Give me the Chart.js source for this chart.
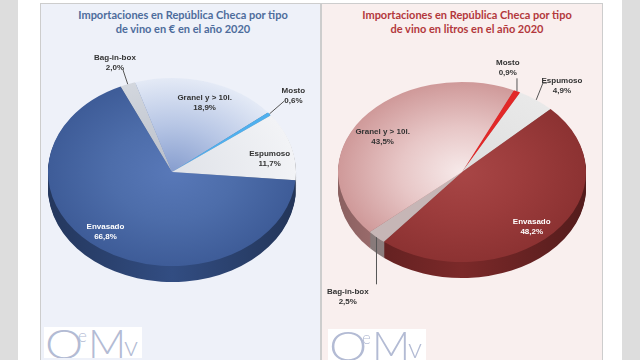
<!DOCTYPE html>
<html><head><meta charset="utf-8">
<script src="https://cdn.jsdelivr.net/npm/chart.js@4.4.1/dist/chart.umd.min.js"></script>
<style>
html,body{margin:0;padding:0;width:640px;height:360px;overflow:hidden;background:#fff;}
.strip{position:absolute;top:0;height:360px;width:18px;background:#dddddd;}
.panel{position:absolute;top:3px;height:360px;box-sizing:border-box;border:1px solid #cdcdcd;border-bottom:none;}
.title{position:absolute;top:8px;width:300px;text-align:center;font:bold 11px Lato, sans-serif;line-height:14px;white-space:nowrap;}
canvas{position:absolute;top:3px;}
.logo{position:absolute;width:98px;height:31px;background:#fff;color:#b3bbd4;font-family:Lato, sans-serif;font-weight:300;white-space:nowrap;overflow:hidden;}
.logo span{position:absolute;}
</style>
</head><body>
<div class="strip" style="left:0"></div>
<div class="strip" style="left:622px"></div>
<div class="panel" style="left:40px;width:281px;background:#eef1f9"></div>
<div class="panel" style="left:321px;width:282px;background:#f9efee"></div>
<div class="title" style="left:33px;color:#4d6c9c">Importaciones en República Checa por tipo<br>de vino en € en el año 2020</div>
<div class="title" style="left:317px;color:#b3383c">Importaciones en República Checa por tipo<br>de vino en litros en el año 2020</div>
<canvas id="c1" width="280" height="357" style="left:40px"></canvas>
<canvas id="c2" width="280" height="357" style="left:322px"></canvas>
<div class="logo" style="left:44px;top:327px"><span style="left:1px;top:-9px;font-size:42px;transform:scaleX(1.15);transform-origin:left">O</span><span style="left:34px;top:-2px;font-size:17px">e</span><span style="left:44px;top:-9px;font-size:42px">M</span><span style="left:80px;top:1px;font-size:28px">v</span></div>
<div class="logo" style="left:328px;top:329px"><span style="left:1px;top:-9px;font-size:42px;transform:scaleX(1.15);transform-origin:left">O</span><span style="left:34px;top:-2px;font-size:17px">e</span><span style="left:44px;top:-9px;font-size:42px">M</span><span style="left:80px;top:1px;font-size:28px">v</span></div>
<script>
// ---- data ----
const categoriesEuro = ['Bag-in-box', 'Granel y > 10l.', 'Mosto', 'Espumoso', 'Envasado'];
const valuesEuro = [2.0, 18.9, 0.6, 11.7, 66.8];
const categoriesLitros = ['Mosto', 'Espumoso', 'Envasado', 'Bag-in-box', 'Granel y > 10l.'];
const valuesLitros = [0.9, 4.9, 48.2, 2.5, 43.5];

// ---- styles ----
const topEuro = [['#b9bfca','#d3d7de'], ['#869dce','#b7c6e5','#e4eaf6'], ['#4fb0ee'], ['#dfe2e8','#f2f3f6'], ['#5878b8','#4d6daa','#3e5c98']];
const sideEuro = ['#9aa0aa', '#7088b8', '#2f82c2', '#b9bcc4', '#30497c'];
const topLitros = [['#e22828'], ['#dedede','#e9e9e9'], ['#a84646','#9c3c3c','#8c3232'], ['#c6b6b6'], ['#f7eaea','#e7c6c6','#cf9999']];
const sideLitros = ['#b01818', '#b5b5b5', '#752727', '#a39393', '#b88080'];
const labelsEuro = [
  {f:1.25, da:-0.7, color:'#333', leader:[8,7]},
  {f:0.78, da:3, color:'#333'},
  {f:1.27, da:-1.4, color:'#333', leader:[-9,5]},
  {f:0.80, da:6, color:'#333'},
  {f:0.83, da:5, color:'#fff'}
];
const labelsLitros = [
  {f:1.22, da:-8.7, color:'#333', leader:[8,11], vertical:true},
  {f:1.25, da:3.4, color:'#333', leader:[-19,-3], tick:4},
  {f:0.83, da:5, color:'#fff'},
  {f:1.66, da:-9.9, color:'#333', leader:[23,-12], vertical:true},
  {f:0.75, da:-5, color:'#333'}
];

function shade(hex, k){
  const n = parseInt(hex.slice(1),16);
  const r = Math.round(((n>>16)&255)*k), g = Math.round(((n>>8)&255)*k), b = Math.round((n&255)*k);
  return 'rgb('+Math.min(255,r)+','+Math.min(255,g)+','+Math.min(255,b)+')';
}
function geom(chart){
  const a = chart.chartArea;
  return {cx:(a.left+a.right)/2, cy:(a.top+a.bottom)/2, r:Math.min(a.right-a.left, a.bottom-a.top)/2};
}
function topFill(allStops){
  return (c) => {
    const stops = allStops[c.dataIndex] || ['#888'];
    if (stops.length === 1) return stops[0];
    const chart = c.chart;
    if (!chart.chartArea) return stops[0];
    const g = geom(chart);
    const gr = chart.ctx.createRadialGradient(g.cx, g.cy, 0, g.cx, g.cy, g.r);
    stops.forEach((s,i)=>gr.addColorStop(i/(stops.length-1), s));
    return gr;
  };
}
const fmt = v => v.toFixed(1).replace('.', ',') + '%';

const pie3d = {
  id:'pie3d',
  beforeDatasetsDraw(chart, args, opts){
    const meta = chart.getDatasetMeta(0);
    const ctx = chart.ctx;
    const cx = meta.data[0].x, cy = meta.data[0].y;
    ctx.save();
    for (let k = opts.depth; k >= 1; k--) {
      ctx.save();
      ctx.translate(0, k);
      ctx.translate(cx, cy); ctx.scale(1, opts.ratio); ctx.translate(-cx, -cy);
      meta.data.forEach((arc, i) => {
        const R = arc.outerRadius;
        const lg = ctx.createLinearGradient(cx - R, 0, cx + R, 0);
        const base = opts.sideColors[i];
        lg.addColorStop(0, shade(base, 0.75));
        lg.addColorStop(0.5, shade(base, 1.05));
        lg.addColorStop(1, shade(base, 0.72));
        ctx.fillStyle = lg;
        ctx.beginPath();
        ctx.moveTo(arc.x, arc.y);
        ctx.arc(arc.x, arc.y, R, arc.startAngle, arc.endAngle);
        ctx.closePath();
        ctx.fill();
      });
      ctx.restore();
    }
    ctx.translate(cx, cy); ctx.scale(1, opts.ratio); ctx.translate(-cx, -cy);
  },
  afterDatasetsDraw(chart){ chart.ctx.restore(); },
  afterDraw(chart, args, opts){
    const meta = chart.getDatasetMeta(0);
    const ctx = chart.ctx;
    const labels = chart.data.labels, vals = chart.data.datasets[0].data;
    ctx.save();
    ctx.font = 'bold 8px "Liberation Sans Narrow", sans-serif';
    ctx.textAlign = 'center'; ctx.textBaseline = 'middle';
    meta.data.forEach((arc, i) => {
      const L = opts.labels[i];
      const mid = (arc.startAngle + arc.endAngle) / 2;
      const a = mid + L.da * Math.PI / 180;
      const R = arc.outerRadius;
      const lx = arc.x + L.f * R * Math.cos(a);
      const ly = arc.y + L.f * R * Math.sin(a) * opts.ratio;
      if (L.leader) {
        const ex = arc.x + R * Math.cos(mid), ey = arc.y + R * Math.sin(mid) * opts.ratio;
        const tx = L.vertical ? ex : lx + L.leader[0];
        const ty = ly + L.leader[1];
        ctx.strokeStyle = '#555'; ctx.lineWidth = 1;
        ctx.beginPath(); ctx.moveTo(ex, ey); ctx.lineTo(tx, ty);
        if (L.tick) ctx.lineTo(tx + L.tick, ty);
        ctx.stroke();
      }
      ctx.fillStyle = L.color;
      ctx.fillText(labels[i], lx, ly - 5);
      ctx.fillText(fmt(vals[i]), lx, ly + 5);
    });
    ctx.restore();
  }
};

function makePie(id, cats, vals, tops, sides, lbls, rotation, pad, ratio){
  return new Chart(document.getElementById(id), {
    type:'pie',
    data:{labels:cats, datasets:[{data:vals, backgroundColor:topFill(tops), borderWidth:0}]},
    options:{
      responsive:false, animation:false, events:[], devicePixelRatio:1,
      rotation: rotation,
      layout:{padding:pad},
      plugins:{legend:{display:false}, tooltip:{enabled:false}, title:{display:false},
        pie3d:{depth:16, ratio:ratio, sideColors:sides, labels:lbls}}
    },
    plugins:[pie3d]
  });
}
makePie('c1', categoriesEuro, valuesEuro, topEuro, sideEuro, labelsEuro, -24.5, {left:8, right:24, top:45, bottom:64}, 0.758);
makePie('c2', categoriesLitros, valuesLitros, topLitros, sideLitros, labelsLitros, 24.7, {left:16, right:16, top:45, bottom:64}, 0.726);
</script>
</body></html>
